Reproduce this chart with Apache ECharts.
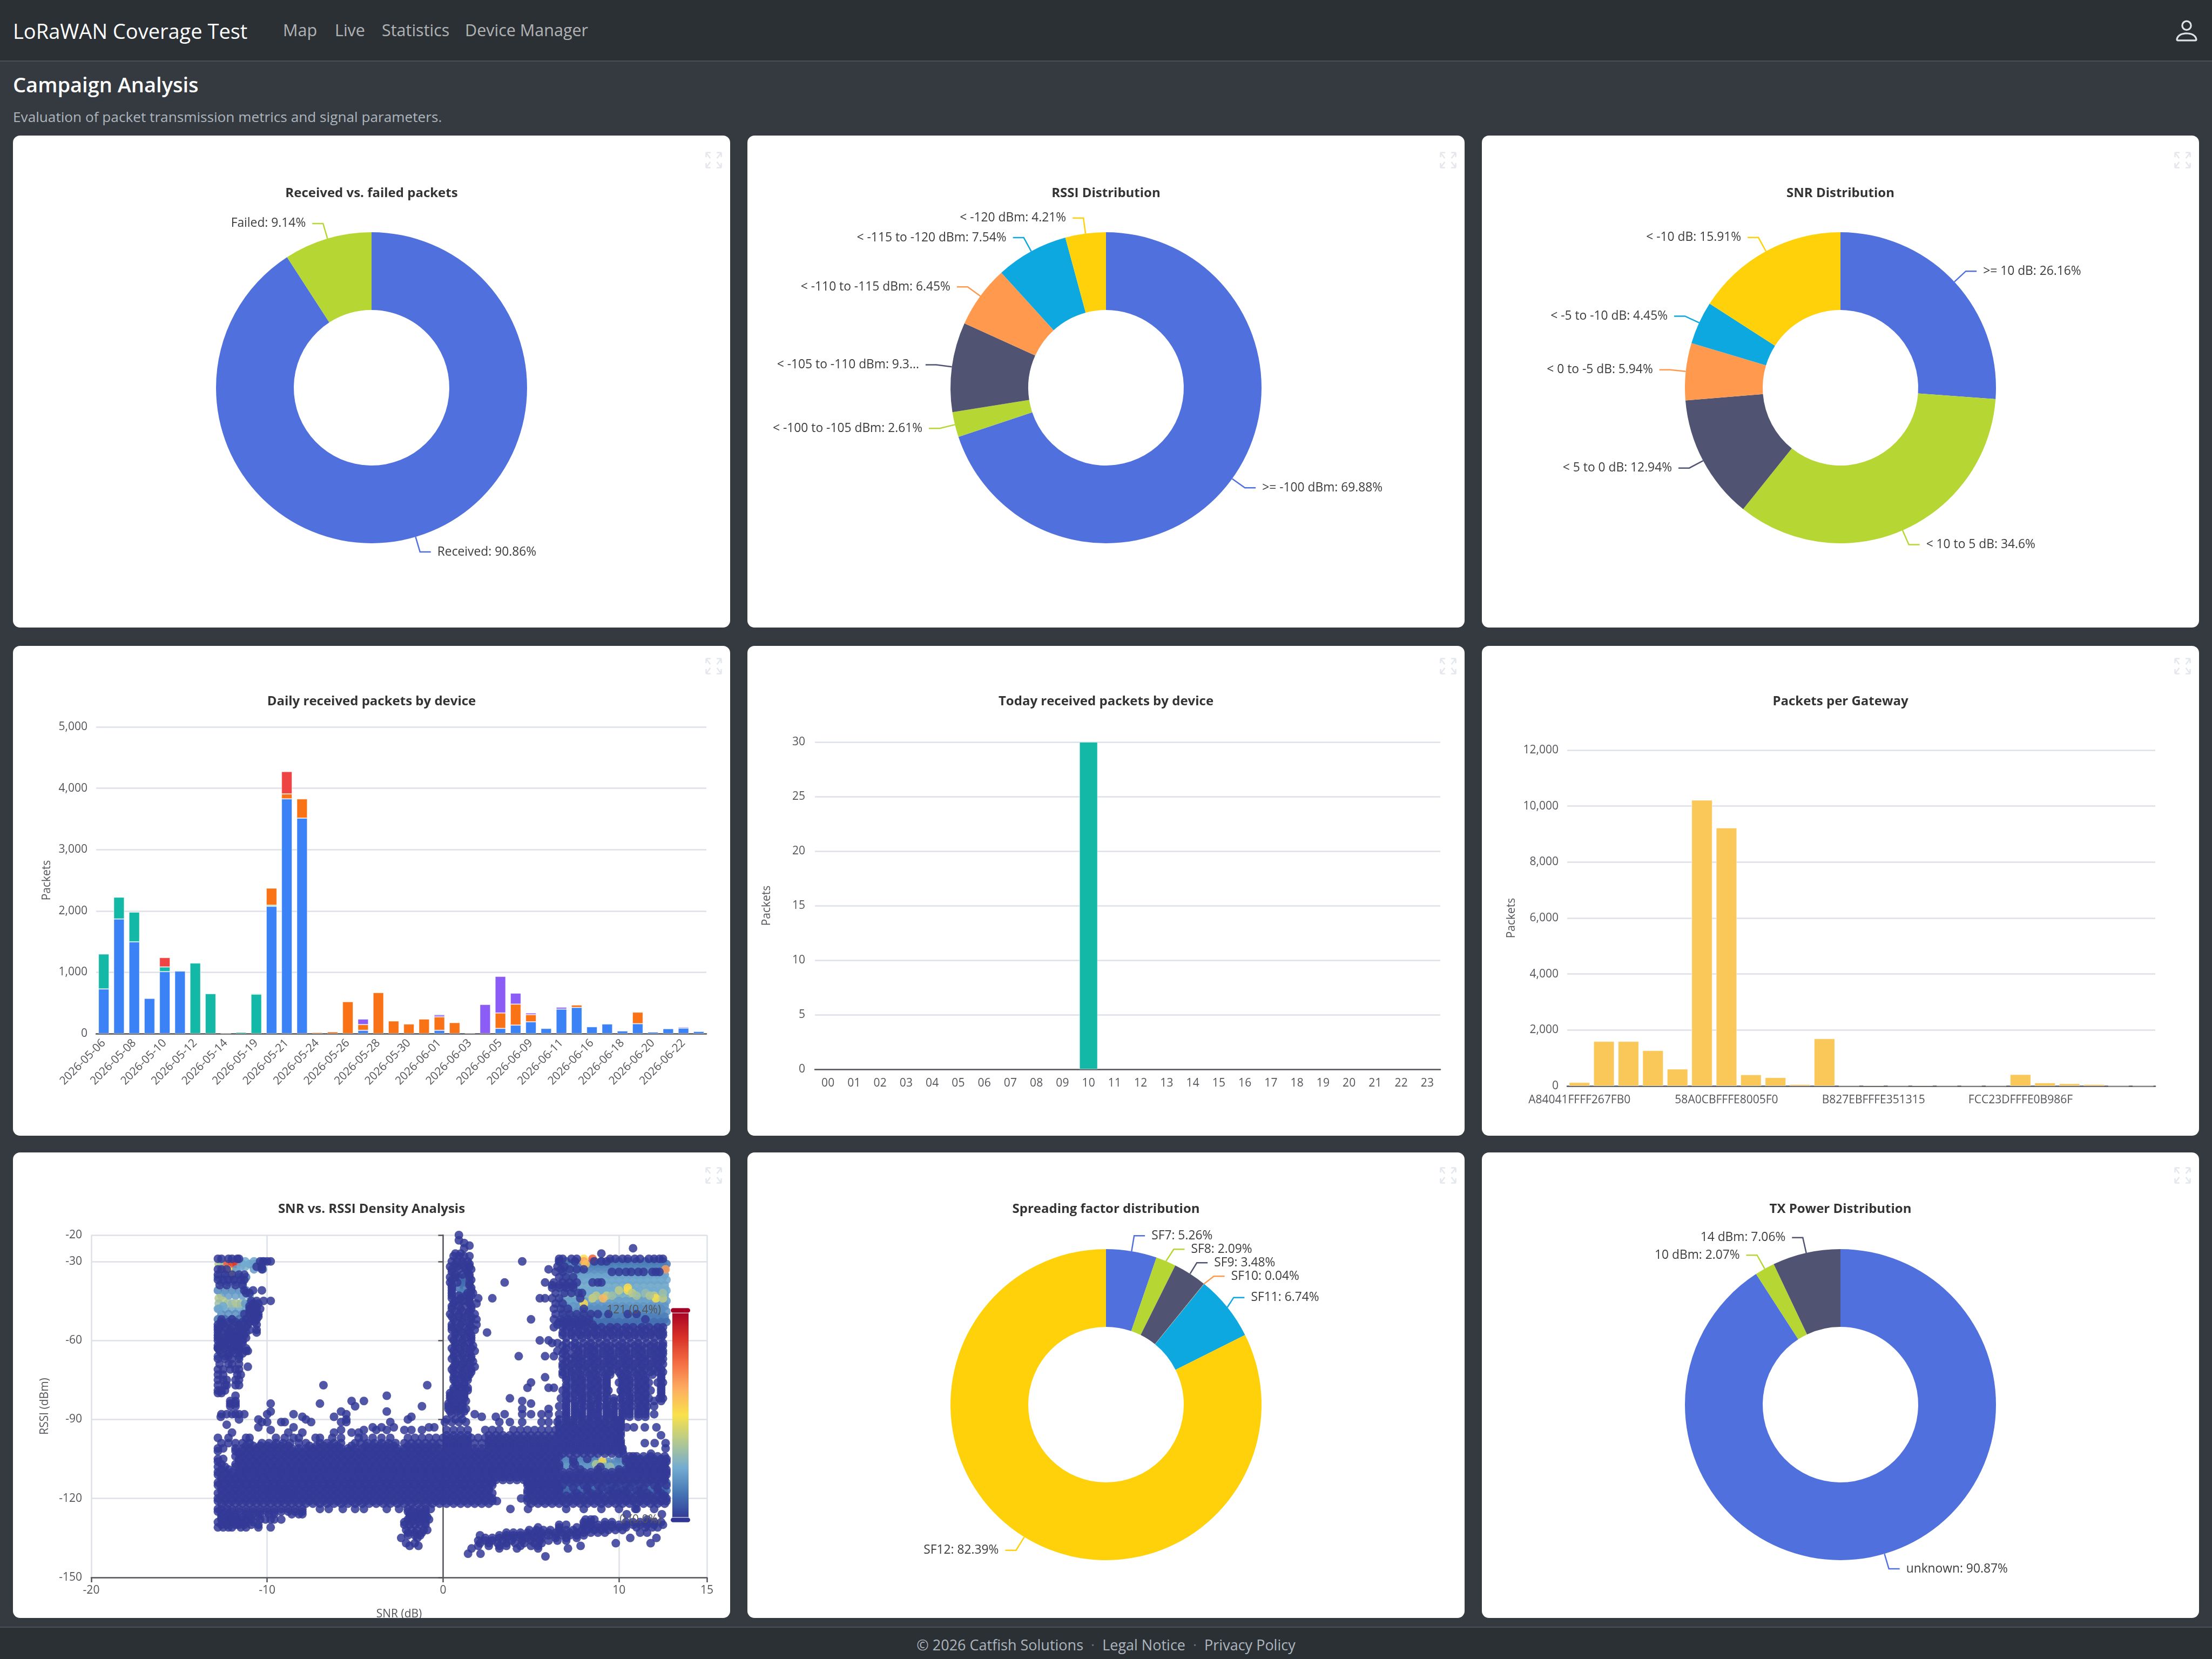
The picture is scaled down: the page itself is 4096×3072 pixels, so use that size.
<!DOCTYPE html>
<html lang="en">
<head>
<meta charset="utf-8">
<title>LoRaWAN Coverage Test</title>
<script src="https://cdn.jsdelivr.net/npm/echarts@6/dist/echarts.min.js"></script>
<style>
  html, body { margin: 0; width: 4096px; height: 3072px; overflow: hidden; background: #343a40; font-family: "Open Sans", sans-serif; }
  .abs { position: absolute; white-space: nowrap; line-height: 1; }
  #topbar { position: absolute; left: 0; top: 0; width: 4096px; height: 112px; background: #2b3035; border-bottom: 2px solid #495057; }
  #bottombar { position: absolute; left: 0; top: 3012px; width: 4096px; height: 60px; background: #2b3035; border-top: 2px solid #495057; box-sizing: border-box; }
  .brand { color: #fff; font-size: 38px; top: 38px; left: 24px; }
  .nav { color: rgba(255,255,255,.65); font-size: 30.5px; top: 40px; }
  h1 { margin: 0; color: #fff; font-size: 38px; font-weight: 600; left: 24px; top: 137px; }
  .sub { color: #adb5bd; font-size: 26.2px; left: 24px; top: 203px; }
  .foot { color: #adb5bd; font-size: 27px; left: 0; width: 4096px; text-align: center; top: 3032px; }
  .foot i { font-style: normal; margin: 0 14px; color: #6c757d; }
  .card { position: absolute; width: 1328px; background: #fff; border-radius: 13px; overflow: hidden; }
  .card > div { width: 1328px; height: 911px; }
  #person { position: absolute; left: 4023px; top: 31px; width: 52px; height: 52px; fill: #dee2e6; }
</style>
</head>
<body>
<div id="topbar"></div>
<div class="abs brand">LoRaWAN Coverage Test</div>
<div class="abs nav" style="left:524px">Map</div>
<div class="abs nav" style="left:620px">Live</div>
<div class="abs nav" style="left:707px">Statistics</div>
<div class="abs nav" style="left:861px">Device Manager</div>
<svg id="person" viewBox="0 0 16 16"><path d="M8 8a3 3 0 1 0 0-6 3 3 0 0 0 0 6m2-3a2 2 0 1 1-4 0 2 2 0 0 1 4 0m4 8c0 1-1 1-1 1H3s-1 0-1-1 1-4 6-4 6 3 6 4m-1-.004c-.001-.246-.154-.986-.832-1.664C11.516 10.68 10.289 10 8 10s-3.516.68-4.168 1.332c-.678.678-.83 1.418-.832 1.664z"/></svg>
<h1 class="abs">Campaign Analysis</h1>
<div class="abs sub">Evaluation of packet transmission metrics and signal parameters.</div>

<div class="card" style="left:24px;top:251px;height:911px"><div id="c1"></div></div>
<div class="card" style="left:1384px;top:251px;height:911px"><div id="c2"></div></div>
<div class="card" style="left:2744px;top:251px;height:911px"><div id="c3"></div></div>
<div class="card" style="left:24px;top:1196px;height:907px"><div id="c4"></div></div>
<div class="card" style="left:1384px;top:1196px;height:907px"><div id="c5"></div></div>
<div class="card" style="left:2744px;top:1196px;height:907px"><div id="c6"></div></div>
<div class="card" style="left:24px;top:2134px;height:862px"><div id="c7"></div></div>
<div class="card" style="left:1384px;top:2134px;height:862px"><div id="c8"></div></div>
<div class="card" style="left:2744px;top:2134px;height:862px"><div id="c9"></div></div>

<div id="bottombar"></div>
<div class="abs foot">© 2026 Catfish Solutions<i>·</i>Legal Notice<i>·</i>Privacy Policy</div>

<script>
// Share of packets, in percent
const packetNames = ['Received', 'Failed'];
const packetShares = [90.86, 9.14];
const rssiNames = ['>= -100 dBm', '< -100 to -105 dBm', '< -105 to -110 dBm', '< -110 to -115 dBm', '< -115 to -120 dBm', '< -120 dBm'];
const rssiShares = [69.88, 2.61, 9.31, 6.45, 7.54, 4.21];
const snrNames = ['>= 10 dB', '< 10 to 5 dB', '< 5 to 0 dB', '< 0 to -5 dB', '< -5 to -10 dB', '< -10 dB'];
const snrShares = [26.16, 34.6, 12.94, 5.94, 4.45, 15.91];
const sfNames = ['SF7', 'SF8', 'SF9', 'SF10', 'SF11', 'SF12'];
const sfShares = [5.26, 2.09, 3.48, 0.04, 6.74, 82.39];
const txNames = ['unknown', '10 dBm', '14 dBm'];
const txShares = [90.87, 2.07, 7.06];

// Daily packets per device
const dayLabels = ['2026-05-06','2026-05-07','2026-05-08','2026-05-09','2026-05-10','2026-05-11','2026-05-12','2026-05-13','2026-05-14','2026-05-15','2026-05-19','2026-05-20','2026-05-21','2026-05-22','2026-05-24','2026-05-25','2026-05-26','2026-05-27','2026-05-28','2026-05-29','2026-05-30','2026-05-31','2026-06-01','2026-06-02','2026-06-03','2026-06-04','2026-06-05','2026-06-06','2026-06-09','2026-06-10','2026-06-11','2026-06-12','2026-06-16','2026-06-17','2026-06-18','2026-06-19','2026-06-20','2026-06-21','2026-06-22','2026-06-23'];
const dailyBlue   = [728,1869,1496,575,1011,1020,0,0,0,0,0,2075,3827,3513,0,0,0,54,0,0,0,0,54,0,0,0,85,139,193,85,400,427,112,157,45,162,27,81,90,36];
const dailyTeal   = [570,355,485,0,76,0,1150,651,6,22,642,18,0,0,0,0,0,0,0,0,0,0,0,0,0,0,0,0,0,0,0,0,0,0,0,0,0,0,0,0];
const dailyOrange = [0,0,0,0,0,0,0,0,0,0,0,279,81,314,20,30,521,94,669,207,157,238,220,180,8,0,252,342,117,0,0,40,0,0,0,188,0,0,0,0];
const dailyPurple = [0,0,0,0,0,0,0,0,0,0,0,0,0,0,0,0,0,90,0,0,0,0,31,0,0,476,597,179,27,0,31,9,0,0,5,0,0,0,18,0];
const dailyRed    = [0,0,0,0,153,0,0,0,0,0,0,0,364,0,0,0,0,0,0,0,0,0,0,0,0,0,0,0,0,0,0,0,0,0,0,0,0,0,0,0];
const dailyGreen  = [0,0,0,0,0,0,0,0,0,0,14,0,0,0,0,0,0,0,0,0,0,0,14,0,0,0,9,0,0,0,0,0,0,0,0,0,0,0,0,0];

// Packets per hour today
const hourLabels = ['00','01','02','03','04','05','06','07','08','09','10','11','12','13','14','15','16','17','18','19','20','21','22','23'];
const hourPackets = [0,0,0,0,0,0,0,0,0,0,30,0,0,0,0,0,0,0,0,0,0,0,0,0];

// Packets per gateway
const gatewayLabels = ['A84041FFFF267FB0','','','','','','58A0CBFFFE8005F0','','','','','','B827EBFFFE351315','','','','','','FCC23DFFFE0B986F','','','','',''];
const gatewayPackets = [128,1595,1595,1270,610,10217,9222,404,305,59,1693,10,30,10,30,10,10,10,413,118,89,59,4,4];

// SNR columns shared by the dense band of readings
const bandEvenLeft = [-11.6,-11.2,-10.8,-10.4,-10,-9.6,-9.2,-8.8,-8.4,-8,-7.6,-7.2,-6.8,-6.4,-6,-5.6,-5.2,-4.8,-4.4,-4,-3.6,-3.2,-2.8,-2.4,-2,-1.6,-1.2,-.8,-.4];
const bandOddLeft = [-11.8,-11.4,-11,-10.6,-10.2,-9.8,-9.4,-9,-8.6,-8.2,-7.8,-7.4,-7,-6.6,-6.2,-5.8,-5.4,-5,-4.6,-4.2,-3.8,-3.4,-3,-2.6,-2.2,-1.8,-1.4,-1,-.6,-.2];
const bandEvenMidA = [0,.4,.8,1.2,1.6,2,2.4,2.8];
const bandEvenMidB = [3.2,3.6,4,4.4];
const bandEvenMidC = [4.8,5.2,5.6,6,6.4];
const bandOddMidA = [.2,.6,1,1.4,1.8,2.2,2.6];
const bandOddMidB = [3,3.4,3.8,4.2,4.6];
const bandOddMidC = [5,5.4,5.8,6.2,6.6];
const bandEvenRightA = [6.8,7.2,7.6,8,8.4,8.8,9.2,9.6,10];
const bandEvenRightB = [10.4,10.8,11.2,11.6,12,12.4,12.7];
const bandOddRightA = [7,7.4,7.8,8.2,8.6,9,9.4,9.8,10.2];
const bandOddRightB = [10.6,11,11.4,11.8,12.2,12.6];
// SNR columns of the vertical ridge near 1 dB
const ridgeA = [.5,.9,1.3,1.6];
const ridgeB = [.7,1.1,1.5];
// SNR columns of the block above 6.5 dB
const blockEven = [6.8,7.3,7.7,8.2,8.6,9.1,9.5,10,10.4,10.9,11.3,11.8,12.2,12.5];
const blockOdd = [7,7.5,7.9,8.4,8.8,9.3,9.7,10.2,10.6,11.1,11.5,12,12.4];
const blockOddHoled = [7,7.5,7.9,8.4,8.8,9.3,10.2,10.6,11.1,11.5,12.4];
const blockOddShort = [7,7.5,7.9,8.4,8.8,9.3,9.7,10.2,10.6,11.1,11.5];
const blockLow = [6.6,7,7.4,7.8,8.2,8.6,9,9.4,9.8,10.1];
const midLow = [.2,.6,1,1.4,2.6,3,3.4,3.8,4.2,4.6,5,5.4,5.8,6.2];
// SNR columns of the block below -11 dB
const cornerA = [-12.8,-12.4,-12,-11.6,-11.2];
const cornerB = [-12.6,-12.2,-11.8,-11.4];

// Low density readings, one entry per RSSI value: [rssi, [snr...]]
const coolRows = [
  [-20,[.9]],[-22,[.9]],[-23,[1.2]],[-24,[1.5]],[-25,[1.2,10.8]],[-27,[9,.7,1]],
  [-28,[.6,.9,1.2,1.5]],[-29,[-12.8,-12.6,-12.2,-12,-11.7,-11.6,6.6,6.8,7.3,7.6,9.5,9.8,10.2,10.5,10.9,11.2,11.7,12,12.3,12.5]],
  [-30,[-10.4,-10.2,-10,-9.8,.5,.8,1.1,1.4,4.5,6.6,7.5,8.6,9,9.3]],[-32,[-10.6,-10.3,.4,.8,1.2,1.5,6.5,6.9]],
  [-33,[-12.8,-12.6,-12.3,-10.3,6,6.7,7.2,7.6,8]],[-34,[.5,1.4,6.4,6.8,9.6,10,10.4,10.7,11.1,11.4,11.9,12.1,12.3]],
  [-35,[-12.8,-12.4,-12,-11.6,-11.3]],[-36,[.4,.7,1.5,6.6,7,7.4]],[-37,[-12.8,-12.5,-12.2,-11.9,-11.5,-11.3]],
  [-38,[.4,.8,1.5,3.5,5.8,6.3,6.8,7.2,7.6,8.5,8.8,9]],[-39,[-12.7,-12.3,-11.8,-11.4,6.2,6.6,7,7.4]],[-40,[.5,1.6,6.2,6.6,7,7.4]],
  [-41,[-11.3,-10.8,-10.3]],[-42,[-11.2,-11,.5,1.4,1.7,6.4,6.9,7.3,7.7,7.9]],[-44,[.5,1,1.5,2,5.5,5.8,6.2,6.6,7.8,2.8]],
  [-45,[-10.9,-10.6,-10.2,-9.8]],[-46,[-10.8,-10.5,.6,1.5,1.9,6.4,6.8]],[-47,[-11,-10.8,-10.6]],[-48,[-11,-10.6,-10.4,.5,1,1.6,6.3,6.7,7.1,8]],[-49,[-11,-10.7]],
  [-50,[-11.3,-11,-10.6,-10.5,.4,.9,1.4,1.8,6.4,6.8,7.2,7.6,8,8.4,8.8,9.4,10.5,11]],[-51,[-10.8,-10.5]],[-52,[-12.6,-12,-11.2,-10.9,-10.6,.6,1.1,1.6,1.9,5,6.3,6.7,7.1,7.5,7.9,8.3,11.5]],
  [-53,[...cornerB,-11,-10.7,6.6,7,7.4,7.8,8.2]],[-54,[-12.8,-12.5,-11.6,-11.1,-10.6,.5,1,1.5,1.9,6.5,6.9,7.3,7.7,8.1,8.5]],[-55,[...cornerA,6.3,6.8,7.2,7.7,8.1,8.6,9,9.5,9.9,10.4,10.8,11.3,11.7,12.2,12.5]],
  [-56,[-12.8,-12.1,-11.4,-11,-10.6,.5,.9,1.4,1.8,...blockOdd]],[-57,[...cornerB,-10.6,2.5,...blockEven]],[-58,[-12.8,-12.2,-11.8,-11.3,.7,1.2,1.6,6.8,7.3,7.8,8.2,8.7,9.1,9.6,10,10.5,10.9,11.4,11.8,12.3,12.5]],
  [-59,[...cornerA,...blockOdd]],[-60,[-12.8,-12.4,-12,-11.6,-11.4,.6,1.1,1.6,5.5,6]],[-61,[...cornerB,6.2,6.5,7,7.5,8,8.4,8.9,9.3,9.8,10.2,10.7,11.1,11.6,12,12.5]],
  [-62,[-12.8,-12.4,-11.9,-11.6,.7,1.2,1.7,...blockEven]],[-63,[...cornerA,...blockOdd]],[-64,[-12.7,-12,-11.6,-11.2,-11.1,.6,1,1.5,1.8,6.5,6.9,7.7,8.2,8.6,9.1,9.5,10,10.4,10.9,11.3,11.8,12.2,12.5]],
  [-65,[...cornerB,...blockEven]],[-66,[-12.2,-11.6,.6,1.1,1.6,4.3,5.8,6.3,...blockOdd]],[-67,[-12.8,-12.4,-12,-11.6,6.8,7.2,7.6,8,8.5,8.9,9.4,9.8,10.3,10.7,11.2,11.6,12.1,12.5]],
  [-68,[.7,1.2,1.7,...blockOdd]],[-69,[-12.7,-12.2,-12,-11.6,...blockEven]],[-70,[-11.1,.6,1,1.4,1.8,6.8,7.2,7.7,8.1,8.6,9,9.5,9.9,10.4,10.8,11.3,11.7,12.2]],
  [-71,[-12.8,-12.5,-12.1,-11.8,-11.6,...blockOdd]],[-72,[.6,1.1,1.6,...blockEven]],[-73,[-12.8,-12.5,-11.7,-11.5,6.8,7.3,7.8,8.3,8.7,9.2,9.5,10.1,10.5,11,11.4,11.9,12.4]],
  [-74,[.6,1,1.4,5.8,...blockOddHoled]],[-75,[-12.8,-12.5,-12.3,-11.8,-11.6,...blockOddHoled]],[-76,[.7,1.2,5,7.3,7.7,8.1,8.6,9,9.3,10,10.4,10.9,11.3,11.7,12.2,12.5]],
  [-77,[-12.8,-12.4,-12.3,-11.8,-11.6,-6.8,-.9,...blockOddHoled]],[-78,[.6,1,1.4,4.8,6,6.3,...blockOddHoled]],[-79,[-12.8,-12.6,-12.4,6.8,7.2,7.7,8.1,8.5,9,9.4,10.1,10.5,11,11.3,11.8,12.4]],
  [-80,[-12.8,-12.6,.4,.8,1.2,...blockOddHoled]],[-81,[-11.8,-3.2,...blockOddHoled]],[-82,[.4,.8,1.2,3.8,6.7,7.2,7.9,8.2,8.8,9.2,9.7,10.1,10.6,10.8,11.3,11.7,12.3,12.5]],
  [-83,[-12.1,-5.2,-4.5,-11.8,4.5,...blockOdd]],[-84,[-12.1,-11.8,-9.8,-7,.3,.7,1.1,5,...blockOddShort]],[-85,[-12.1,-11.8,-1.2,-5,6.6,7,7.5,8,8.4,8.9,9.3,9.8,10.3,10.7,11.2,11.6,12]],
  [-86,[.3,.7,1,1.3,4.5,6,...blockOddShort]],[-87,[-9.8,-3.2,-5.8,...blockOddShort]],[-88,[-12.6,-12.3,-12,-11.8,-11.6,-11.3,-10,-8.5,-5.5,1.8,3.5,.5,1,4.5,5,5.6,6,6.6,7,7.5,7.9,8.4,8.8,9.3,9.7,10.2,10.6,11.1,11.5,12]],
  [-89,[-8,-6.2,-1.8,-12.64,3,2.2,...blockOddShort]],[-90,[-11.6,-10.5,-7.8,-5.5,-2,.2,.7,1.1,...blockLow]],[-91,[-7.5,-3,-10.3,-10,-9.2,-9,-5.8,-5.5,3.2,3.8,4.5,5.6,6,6.5,7,7.4,7.9,8.3,8.8,9.2,9.7,10.1,.1,.5,.9,1.3]],
  [-92,[-12.3,...blockLow]],[-93,[-10.5,-8.5,-4,-3.5,-2.8,-.8,-.5,10.44,10.85,11.47,12.13,...blockLow]],[-94,[-9.8,-5.8,-4.5,-3.8,-3.2,-2.2,-1.8,-1.2,.2,.6,1,1.4,2.4,2.8,3.2,4,4.4,4.8,5.2,5.6,6,6.4,6.8,7.2,7.6,8,8.4,8.8,9.2,9.6,10]],
  [-95,[-12,-8,-8.8,-6.2,-5.2,-4.8,...blockLow]],[-96,[12.39,...midLow,...blockLow]],
  [-97,[-12.8,-12.2,-11.2,-11,-9.5,-9,-8.5,-8.2,-7.25,-7,-6.3,-5.8,-4.8,-4.5,-4,-3.5,-3,-2,-1.6,-1.2,-.8,-.4,0,.4,.8,1.2,1.6,2,2.4,2.8,3.2,3.6,4,4.4,4.8,5.2,5.6,6,6.4,6.8,7.2,7.6,8,8.4,8.8,9.2,9.6,10]],
  [-98,[...midLow,...blockLow]],
  [-99,[-12.6,-12.2,-11.8,-11.4,-11,-10.3,-9.9,-9.5,-9.1,-8.7,-8.2,-7.8,-7,-6.6,-6.2,-5.8,-5,-4.7,-4.3,-3.9,-3.5,-3.1,-2.7,-2.2,-1.8,-1.4,-1,-.6,-.2,.2,.6,1,1.4,1.8,2.2,2.6,3,3.4,3.8,4.2,4.6,5,5.4,5.8,6.2,6.6,7,7.4,7.8,8.2,8.6,9,9.4,9.8,10.1,11.47,12.03,12.65]],
  [-100,[...midLow,...blockLow,-11.2,-10.8,-10.4,-10,-9.6,-9.2,-8.8,-7.6,-7.2,-6.8,-6.4,-6,-5.2,-4.4,-4,-3.6,-3.2,-2.8,-2,-1.6,-1.2,-.8,-.4]],
  [-101,[-12.8,-12.5,12.65,...bandOddLeft,...bandOddMidA,...bandOddMidB,...bandOddMidC,...bandOddRightA]],[-103,[10.24,11.82,...bandEvenLeft,...bandEvenMidA,...bandEvenMidB,...bandEvenMidC,...bandEvenRightA]],[-104,[10.8,...bandOddLeft,...bandOddMidA,...bandOddMidB,...bandOddMidC,...bandOddRightB]],
  [-102,[-12.8,...bandOddLeft,...bandOddMidA,...bandOddMidB,...bandOddMidC,...bandOddRightA]],
  [-105,[-12.8,-12.5,...bandEvenLeft,...bandEvenMidA,...bandEvenMidB,...bandEvenMidC,...bandEvenRightB,7.4,8.2]],
  [-106,[-12.8,...bandEvenLeft,...bandEvenMidA,...bandEvenMidB,...bandEvenMidC,...bandEvenRightB,7.4]],
  [-107,[-12.6,...bandOddLeft,...bandOddMidA,...bandOddMidB,...bandOddMidC,...bandOddRightB,7.5]],
  [-108,[-12.8,-12.4,...bandOddLeft,...bandOddMidA,...bandOddMidB,...bandOddMidC,...bandOddRightB,7.4,8.95]],
  [-109,[-12.6,-12.2,...bandEvenLeft,...bandEvenMidA,...bandEvenMidB,...bandEvenMidC,...bandEvenRightB,7.8,8.8,10]],
  [-110,[-12.8,-12.4,-12,...bandEvenLeft,...bandEvenMidA,...bandEvenMidB,...bandEvenMidC,...bandEvenRightA,...bandEvenRightB]],
  [-111,[-12.8,-12.4,-12,...bandEvenLeft,...bandEvenMidA,...bandEvenMidB,...bandEvenMidC,...bandEvenRightA,...bandEvenRightB]],
  [-112,[-12.6,-12.2,...bandOddLeft,...bandOddMidA,...bandOddMidB,...bandOddMidC,...bandOddRightA,...bandOddRightB]],
  [-113,[-12.6,-12.2,...bandOddLeft,...bandOddMidA,...bandOddMidB,...bandOddMidC,...bandOddRightA,...bandOddRightB]],
  [-114,[-12.8,-12.4,-12,...bandEvenLeft,...bandEvenMidA,...bandEvenMidC,7.2,7.6,8.4,9.2,10,10.8,11.6,12.4]],
  [-115,[-12.8,-12.4,-12,...bandEvenLeft,...bandEvenMidA,...bandEvenMidC,6.8,8,8.8,9.6,10.4,11.2,12,12.7]],
  [-116,[-12.6,-12.2,...bandOddLeft,...bandOddMidA,...bandOddMidC,7.4,8.2,9,9.8,10.6,11.4,12.2]],
  [-117,[-12.6,-12.2,...bandOddLeft,...bandOddMidA,...bandOddMidC,8.2,9.4,10.2,11,12.2,4.8]],
  [-118,[-12.8,-12.4,-12,...bandEvenLeft,...bandEvenMidA,...bandEvenMidC,7.6,8.4,8.8,9.6,10,10.4,11.2,11.6,12.4]],
  [-119,[-12.6,-12.2,...bandOddLeft,...bandOddMidA,...bandOddMidC,...bandOddRightA,...bandOddRightB]],
  [-120,[-12.8,-12.4,-12,...bandEvenLeft,...bandEvenMidA,...bandEvenMidC,...bandEvenRightA,...bandEvenRightB,4.44]],
  [-121,[-12.8,-12.4,-12,...bandEvenLeft,...bandEvenMidA,...bandEvenMidC,...bandEvenRightA,...bandEvenRightB,3.06]],
  [-122,[-12.6,-12.2,...bandOddLeft,...bandOddMidA,...bandOddMidC,...bandOddRightA,...bandOddRightB]],
  [-124,[-12.8,-12.6,-12.3,-12,-11.6,-11.2,-10.8,-10.4,-10,-9.6,-9.2,-8.8,-8.4,-8,-7,-6.5,-5.7,-5,-4.5,-3.2,-2.5,-2,-1.7,-1.3,-1,-.7,3.83,4.83,7,8,9,10,11,12,10.93]],
  [-125,[-12.8,-12.4,-12,-11.6,-11.2,-10.8,-10.4,-10,-9.6,-9.2,-8.8,-8.4,-8,-2,-1.7,-1.4,-1]],
  [-126,[-12.6,-12.2,-11.8,-11.2,-10.8,-10.4,-9.9,-9.6,-8.6,-8.2,-8,-1.9,-1.6,-1.3,-1,10.44,12.44]],
  [-127,[-12.6,-12.2,-11.8,-11.4,-11,-10.5,-1.9,-1.6,-1.2,-.9]],
  [-128,[-12.6,-12.2,-12,-11.7,-11.5,-11.2,-10.9,-10.4,-10.1,-9.8,-9.6,-9.2,-2,-1.7,-1.4,-1.1,-.8,8.1,8.4,8.6,11.6]],
  [-129,[-12.8,-12.4,-12,-11.6,-11.2,-10.8,-2.2,-1.8,-1.4,-1,8,8.4,9.2,9.6,10.4,10.8,11.2,11.6,12,12.4]],
  [-130,[-12.6,-12.3,-11.8,-11.6,-11.3,-10.9,-10.5,-2.2,-1.9,-1.6,-1.3,-1,6.6,7,8,8.4,8.8,9.2,9.6,10,10.4,10.8,11.2,11.6,12,12.5]],
  [-131,[-12.8,-12.5,-12.2,-12,-11.5,-11.2,-10.5,-9.8,5.4,6.6,7.6,8,8.4,8.8,9.2,9.6,10,10.4,11,11.5,11.9,12.2]],
  [-132,[-2.1,-1.8,-1.5,-1.1,-.9,4.9,5.3,5.7,6.1,6.6,7,7.4,7.9,8.2,8.6,9,9.4,9.8,10.2]],
  [-133,[3.6,4,4.4,4.8,5.2,5.6,6,6.4,6.8,7.2,7.6,8,8.4,8.8,9.2,11.2,11.6,-2,-1.6,-1.2]],
  [-134,[-2,-1.6,-1.3,2.1,3.2,3.6,4,4.4,4.8,5.2,5.6,6,6.4,6.8,7.2,7.6,8]],
  [-135,[-2.38,-1.46,2.4,2.8,3.2,3.6,4,4.4,4.8,5.2,5.6,6.4,7,7.6,10.64,12.13]],
  [-136,[2,2.4,2.8,3.4,3.9,4.5,5,5.5,6,6.5,7]],
  [-137,[-1.61,-2.1,2.1,2.6,3.1,3.6,4.1,4.6,5.2,5.6,9.82,11.8]],
  [-138,[-1.9,-1.4,2,2.6,3.2,3.6,4.4,5,5.4,7.82]],
  [-139,[1.62,3.2,4.2,5.4,7.1]],[-141,[1.42,2.13]],[-142,[5.82]],
  // Ridge near 1 dB, top to bottom
  [-31,ridgeB],[-33,ridgeA],[-35,ridgeB],[-37,[.5,1.6]],[-39,[.5,1.5]],[-41,[.5,1.6]],[-43,ridgeA],[-45,ridgeB],[-47,ridgeA],[-49,ridgeB],
  [-51,ridgeA],[-53,ridgeB],[-55,ridgeA],[-57,ridgeB],[-59,ridgeA],[-61,ridgeB],[-63,ridgeA],[-65,ridgeB],[-67,ridgeA],[-69,ridgeB],
  [-71,ridgeA],[-73,ridgeB],[-75,[.6,1,1.4]],[-77,[.8,1.2]],[-79,[.6,1,1.4]],[-81,[.4,.8,1.2]],[-83,[.5,.9,1.3]],[-85,[.3,.7,1.1]],[-87,[.4,.8,1.2]]
];

// Blue regions: [rssi, density, [snr...]]
const tintRows = [
  [-31,22,[-11.4,-11,-10.7]],[-36,14,cornerA],[-38,16,cornerB],[-41,20,cornerA],
  [-43,26,[...cornerB,-11]],[-48,28,[...cornerA,-10.8]],[-50,22,cornerB],
  [-52,14,cornerA],[-54,12,cornerB],[-57,10,cornerA],[-60,8,cornerB],
  [-63,9,[-12.8,-12.4,-12,-11.6]],[-66,7,[-12.8,-12.4]],
  [-36,9,[.9,1.2]],[-38,12,[1,1.2]],[-40,14,[.9,1.2]],[-42,18,[1,1.2]],[-45,8,[.9,1.2]],
  [-30,14,[6.6,7,7.5,8.5,9,9.5,10,10.5,11,11.5,12,12.5]],[-31,15,[...bandEvenRightA,...bandEvenRightB]],[-32,18,[8.2,8.6,9,9.4,9.8,10.2,10.6,11,11.4,11.8,12.2,12.6]],
  [-33,20,[...bandOddRightA,...bandOddRightB]],[-34,22,[7.6,8,8.4,8.8,9.2,9.6,10,10.4,10.8,11.2,11.6,12,12.4]],[-35,24,[...bandOddRightA,...bandOddRightB]],[-36,28,[8,8.4,8.8,9.2,9.6,10,10.4,10.8,11.2,11.6,12,12.5]],
  [-37,28,[...bandEvenRightA,...bandEvenRightB]],[-38,30,[8.2,9.2,9.6,10,10.4,10.8,11.2,11.6,12,12.4]],[-39,28,[...bandOddRightA,...bandOddRightB]],[-40,32,[7.8,8.2,8.6,9,9.4,9.8,10.2,10.6,11,11.4,11.8,12.2,12.6]],
  [-41,30,[...bandEvenRightA,...bandEvenRightB]],[-42,30,[7.8,8.2,8.6,9,9.4,9.8,10.2,10.6,11,11.4,11.8,12.2,12.6]],[-43,30,[...bandOddRightA,...bandOddRightB]],[-44,34,[6.8,7.2,7.6,8,9.6,10,10.4,10.8,11.2,11.6,12.5]],
  [-45,26,[...bandEvenRightA,...bandEvenRightB]],[-46,28,[6.6,7,7.4,7.8,8.6,9,9.4,9.8,10.2,10.6,11,11.4,11.8,12.2,12.6]],[-47,24,[...bandOddRightA,...bandOddRightB]],[-48,22,[8.4,8.8,9.2,9.6,10,10.4,10.8,11.2,11.6,12,12.4]],
  [-49,22,[...bandEvenRightA,...bandEvenRightB]],[-50,22,[9,9.6,10,10.4,10.8,11.2,11.6,12,12.4]],[-51,18,[...bandOddRightA,...bandOddRightB]],[-52,18,[8.6,9,9.4,9.8,10.2,10.6,11,11.4,11.8,12.2,12.6]],
  [-53,14,[...bandEvenRightA,...bandEvenRightB]],[-54,14,[8.8,9.2,9.6,10,10.4,10.8,11.2,11.6,12,12.4]],
  [-105,14,[6.6,7,7.8,8.6,10]],[-106,20,[6.8,7.2,7.8,8.2,8.6,9,9.4,9.8]],[-107,22,[6.6,7,7.8,8.2,8.6,9,9.4,9.8,10.2]],[-108,24,[6.6,7,7.8,8.2,8.6,9.4,9.8,10.2]],
  [-114,12,[...bandEvenMidC,...bandEvenRightA,...bandEvenRightB]],[-115,14,[6.4,7.2,7.6,8.4,9.2,10,10.8,11.6,12.4]],[-116,18,[6.8,7.1,7.7,8.6,9.4,10.2,11,11.8,12.6]],
  [-117,12,[...bandEvenRightA,...bandEvenRightB]],[-118,12,[6.6,7,7.4,7.8,8.6,9,9.8,10.6,11.4,11.8,12.6]],
  [-110,8,[4.4,5]],[-118,10,[-9,-8.8,-8.6]],[-117,7,[-10,-9.4]]
];

// Densest cells: [snr, rssi, density]
const hotCells = [
  [-12.75,-31,45],[-12.5,-31,40],[-12.25,-31,95],[-12,-31,100],[-11.75,-31,105],[-12.5,-33,85],[-12.25,-33,75],[-12,-34,62],[-11.75,-33,25],
  [-11.25,-32,32],[-11,-31,30],[-10.75,-30,28],[-10.5,-31,25],[-10.25,-30,22],[-11.25,-30,30],[-11.5,-32,30],[-10.75,-33,25],[-10.25,-33,18],
  [-12.75,-44,45],[-12.5,-45,46],[-12.75,-46,40],[-12.25,-46,42],[-12,-46,38],[-11.75,-46,44],[-11.5,-46,40],[-12.5,-47,30],[-12.75,-48,28],[-11.25,-46,25],[-11,-46,22],
  [8,-29,62],[8,-30,78],[8.1,-31,70],[8.5,-29,95],[9.3,-43,48],[8.5,-44,50],[8.7,-43,46],[10,-41,48],[10.5,-41,58],[10.5,-40,62],[10.75,-42,48],
  [11,-43,42],[9.6,-43,40],[11.5,-42,38],[12,-43,46],[12.1,-44,60],[12.5,-44,48],[11.75,-43,44],[12.5,-42,40],[9.1,-44,72],[8,-46,62],[12.65,-33,80],
  [9.05,-106,62],[8.7,-107,44],[9.5,-108,38],[9.2,-108,34]
];

// Total packets, for the share shown next to the density scale
const totalPackets = 30250;

const densityColors = ['#313695','#4575b4','#74add1','#b5c98e','#f9e14b','#fdae61','#f46d43','#d73027','#a50026'];
const deviceColors = ['#3b82f6','#14b8a6','#f97316','#8b5cf6','#ef4444','#22c55e'];

const FONT = '"Open Sans", sans-serif';
const AXIS_TEXT = '#54555a';
const GRID_LINE = { lineStyle: { color: '#dde0e7', width: 2.5 } };
const AXIS_LINE = { lineStyle: { color: '#54555a', width: 2.5 } };
const expandIcon = 'path://M0 0L0 30M0 0L30 0M0 0L28 38M100 0L100 30M100 0L70 0M100 0L72 38M0 100L0 70M0 100L30 100M0 100L28 62M100 100L100 70M100 100L70 100M100 100L72 62';

function baseOption(title, titleTop, iconTop) {
  return {
    animation: false,
    textStyle: { fontFamily: FONT },
    title: { text: title, left: 'center', top: titleTop, textStyle: { fontFamily: FONT, fontSize: 24, fontWeight: 'bold', color: '#333' } },
    toolbox: {
      right: 14, top: iconTop, itemSize: 28, padding: 0,
      iconStyle: { color: 'none', borderColor: '#e4e8ec', borderWidth: 2.5 },
      feature: { myExpand: { show: true, title: '', icon: expandIcon, onclick() {} } }
    }
  };
}

function pieOption(title, titleTop, iconTop, names, shares, itemOverrides) {
  return Object.assign(baseOption(title, titleTop, iconTop), {
    series: [{
      type: 'pie',
      center: [664, 467],
      radius: [144, 288],
      bleedMargin: 4,
      minShowLabelAngle: 0,
      label: { formatter: '{b}: {c}%', fontFamily: FONT, fontSize: 22.8, color: '#3c3c3c', distanceToLabelLine: 12 },
      labelLine: { length: 29, length2: 20, lineStyle: { width: 2.5 } },
      data: names.map((name, i) => Object.assign({ name, value: shares[i] }, (itemOverrides || {})[i]))
    }]
  });
}

function barSeries(values, name, color) {
  // Empty days stay empty, so no outline is drawn on the baseline
  return { type: 'bar', name, stack: 'packets', data: values.map(v => v || null), barWidth: '70%', itemStyle: { color, borderColor: 'rgba(255,255,255,.5)', borderWidth: 1 } };
}

function valueAxis(extra) {
  return Object.assign({
    type: 'value',
    axisLabel: { fontFamily: FONT, fontSize: 21, color: AXIS_TEXT },
    splitLine: GRID_LINE,
    nameLocation: 'middle',
    nameTextStyle: { fontFamily: FONT, fontSize: 21, color: AXIS_TEXT }
  }, extra);
}

function categoryAxis(data, labelExtra) {
  return {
    type: 'category', data,
    axisTick: { show: false },
    axisLine: AXIS_LINE,
    axisLabel: Object.assign({ fontFamily: FONT, fontSize: 21, color: AXIS_TEXT }, labelExtra)
  };
}

function collectDensityPoints() {
  const points = [];
  tintRows.forEach(([rssi, density, snrs]) => snrs.forEach(snr => points.push([snr, rssi, density])));
  hotCells.forEach(cell => points.push(cell));
  coolRows.forEach(([rssi, snrs]) => snrs.forEach(snr => points.push([snr, rssi, 1])));
  return points;
}

function mount(id, option) {
  echarts.init(document.getElementById(id)).setOption(option);
}

mount('c1', pieOption('Received vs. failed packets', 90, 29, packetNames, packetShares));
mount('c2', pieOption('RSSI Distribution', 90, 29, rssiNames, rssiShares, { 2: { label: { width: 276, overflow: 'truncate' } } }));
mount('c3', pieOption('SNR Distribution', 90, 29, snrNames, snrShares));

mount('c4', Object.assign(baseOption('Daily received packets by device', 86, 21), {
  grid: { left: 154, top: 150, width: 1130, height: 568 },
  xAxis: categoryAxis(dayLabels, { rotate: 45, interval: 1, margin: 14 }),
  yAxis: valueAxis({ min: 0, max: 5000, interval: 1000, name: 'Packets', nameGap: 79, axisLabel: { fontFamily: FONT, fontSize: 21, color: AXIS_TEXT, margin: 16 } }),
  series: [
    barSeries(dailyBlue, 'Blue', deviceColors[0]),
    barSeries(dailyTeal, 'Teal', deviceColors[1]),
    barSeries(dailyOrange, 'Orange', deviceColors[2]),
    barSeries(dailyPurple, 'Purple', deviceColors[3]),
    barSeries(dailyRed, 'Red', deviceColors[4]),
    barSeries(dailyGreen, 'Green', deviceColors[5])
  ]
}));

mount('c5', Object.assign(baseOption('Today received packets by device', 86, 21), {
  grid: { left: 125, top: 178, width: 1158, height: 606 },
  xAxis: categoryAxis(hourLabels, { interval: 0, margin: 16 }),
  yAxis: valueAxis({ min: 0, max: 30, interval: 5, name: 'Packets', nameGap: 78, axisLabel: { fontFamily: FONT, fontSize: 21, color: AXIS_TEXT, margin: 18 } }),
  series: [barSeries(hourPackets, 'Today', deviceColors[1])]
}));

mount('c6', Object.assign(baseOption('Packets per Gateway', 86, 21), {
  grid: { left: 158, top: 193, width: 1089, height: 622 },
  xAxis: categoryAxis(gatewayLabels, { interval: 5, margin: 16 }),
  yAxis: valueAxis({ min: 0, max: 12000, interval: 2000, name: 'Packets', nameGap: 79, axisLabel: { fontFamily: FONT, fontSize: 21, color: AXIS_TEXT, margin: 16 } }),
  series: [{ type: 'bar', data: gatewayPackets, barWidth: '85%', itemStyle: { color: '#fac858', borderColor: 'rgba(255,255,255,.5)', borderWidth: 1 } }]
}));

mount('c7', Object.assign(baseOption('SNR vs. RSSI Density Analysis', 88, 26), {
  grid: { left: 145, top: 153, width: 1140, height: 634 },
  xAxis: {
    type: 'value', min: -20, max: 15, interval: 10,
    name: 'SNR (dB)', nameLocation: 'middle', nameGap: 58,
    nameTextStyle: { fontFamily: FONT, fontSize: 21, color: AXIS_TEXT },
    axisLine: AXIS_LINE,
    axisTick: { show: true, length: 9, lineStyle: { color: '#54555a', width: 2.5 } },
    axisLabel: { fontFamily: FONT, fontSize: 21, color: AXIS_TEXT, margin: 14 },
    splitLine: GRID_LINE
  },
  yAxis: [
    {
      type: 'value', min: -150, max: -20, interval: 30, position: 'left',
      name: 'RSSI (dBm)', nameLocation: 'middle', nameGap: 75,
      nameTextStyle: { fontFamily: FONT, fontSize: 21, color: AXIS_TEXT },
      axisLine: { show: false, onZero: false },
      axisTick: { show: false },
      axisLabel: { fontFamily: FONT, fontSize: 21, color: AXIS_TEXT, margin: 17 },
      splitLine: GRID_LINE
    },
    {
      type: 'value', min: -150, max: -20, interval: 30,
      axisLine: Object.assign({ onZero: true }, AXIS_LINE),
      axisTick: { show: true, inside: true, length: 9, lineStyle: { color: '#54555a', width: 2.5 } },
      axisLabel: { show: false },
      splitLine: { show: false }
    }
  ],
  visualMap: {
    type: 'continuous', min: 0, max: 121, dimension: 2, seriesIndex: 0,
    calculable: true, realtime: false, hoverLink: false,
    orient: 'vertical', right: 58, top: 267,
    itemWidth: 30, itemHeight: 388,
    inRange: { color: densityColors },
    formatter: value => `${Math.round(value)} (${(value / totalPackets * 100).toFixed(1)}%)`,
    textStyle: { fontFamily: FONT, fontSize: 21, color: '#555' }
  },
  series: [{
    type: 'scatter', yAxisIndex: 0, symbolSize: 16,
    itemStyle: { opacity: 0.85 },
    data: collectDensityPoints()
  }]
}));

mount('c8', pieOption('Spreading factor distribution', 88, 26, sfNames, sfShares));
mount('c9', pieOption('TX Power Distribution', 88, 26, txNames, txShares));
</script>
</body>
</html>
